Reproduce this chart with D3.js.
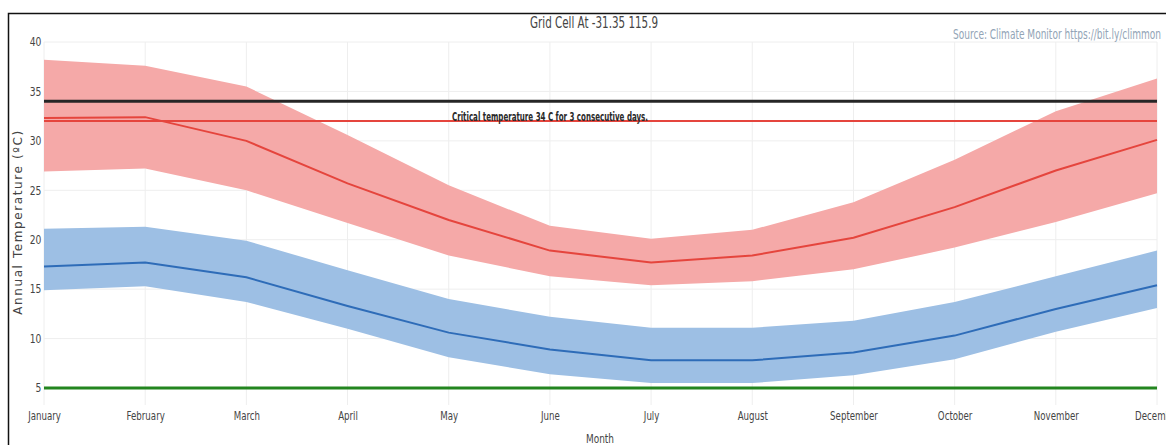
<!DOCTYPE html>
<html>
<head>
<meta charset="utf-8">
<script src="https://cdn.jsdelivr.net/npm/d3@7"></script>
<style>
  html, body { margin: 0; padding: 0; background: #fff; }
  svg { display: block; }
  .cond { font-family: "Liberation Sans Narrow", "DejaVu Sans Condensed", "Roboto Condensed", sans-serif; }
</style>
</head>
<body>
<svg id="chart" width="1166" height="445"></svg>
<script>
// Monthly temperature envelopes for the grid cell
const months = ["January","February","March","April","May","June","July","August","September","October","November","December"];

const maxUpper = [38.2, 37.6, 35.5, 30.6, 25.5, 21.4, 20.1, 21.0, 23.8, 28.1, 33.0, 36.3];
const maxMean  = [32.3, 32.4, 30.0, 25.7, 22.0, 18.9, 17.7, 18.4, 20.2, 23.3, 27.0, 30.1];
const maxLower = [26.9, 27.2, 25.0, 21.7, 18.4, 16.3, 15.4, 15.8, 17.0, 19.2, 21.8, 24.7];

const minUpper = [21.1, 21.3, 19.9, 16.9, 14.0, 12.2, 11.1, 11.1, 11.8, 13.7, 16.3, 18.9];
const minMean  = [17.3, 17.7, 16.2, 13.3, 10.6,  8.9,  7.8,  7.8,  8.6, 10.3, 13.0, 15.4];
const minLower = [14.9, 15.3, 13.7, 11.0,  8.1,  6.4,  5.5,  5.5,  6.3,  7.9, 10.7, 13.1];

const yTicks = [5, 10, 15, 20, 25, 30, 35, 40];
const criticalTemp = 34;
const maxThreshold = 32;
const minThreshold = 5;

const svg = d3.select("#chart");

// outer frame
svg.append("rect").attr("x", 8.5).attr("y", 13.5).attr("width", 1170).attr("height", 440)
  .attr("fill", "none").attr("stroke", "#111").attr("stroke-width", 1.5);

const plotL = 44, plotR = 1157, plotT = 42, plotB = 388;

const x = d3.scalePoint().domain(months).range([plotL, plotR]);
const y = d3.scaleLinear().domain([5, 40]).range([plotB, plotT]);

// gridlines
const g = svg.append("g");
g.selectAll("line.vg").data(months).join("line")
  .attr("x1", d => x(d)).attr("x2", d => x(d)).attr("y1", plotT).attr("y2", 405)
  .attr("stroke", "#eeeeee").attr("stroke-width", 1);
g.selectAll("line.hg").data(yTicks).join("line")
  .attr("x1", plotL).attr("x2", plotR).attr("y1", d => y(d)).attr("y2", d => y(d))
  .attr("stroke", "#eeeeee").attr("stroke-width", 1);

const idx = d3.range(months.length);
const area = (lo, hi) => d3.area().x(i => x(months[i])).y0(i => y(lo[i])).y1(i => y(hi[i]));
const line = vals => d3.line().x(i => x(months[i])).y(i => y(vals[i]));

svg.append("path").datum(idx).attr("d", area(maxLower, maxUpper)).attr("fill", "#f5a9a8");
svg.append("path").datum(idx).attr("d", area(minLower, minUpper)).attr("fill", "#9dbfe4");

svg.append("path").datum(idx).attr("d", line(maxMean)).attr("fill", "none")
  .attr("stroke", "#e5453d").attr("stroke-width", 2);
svg.append("path").datum(idx).attr("d", line(minMean)).attr("fill", "none")
  .attr("stroke", "#2e6cb8").attr("stroke-width", 2);

// threshold lines
const hline = (v, color, w) => svg.append("line")
  .attr("x1", plotL).attr("x2", plotR).attr("y1", y(v)).attr("y2", y(v))
  .attr("stroke", color).attr("stroke-width", w);
hline(criticalTemp, "#262626", 3);
hline(maxThreshold, "#e5453d", 2);
hline(minThreshold, "#23851f", 3);

svg.append("text").attr("class", "cond")
  .attr("x", 550).attr("y", 121).attr("text-anchor", "middle")
  .attr("font-size", 12).attr("font-weight", "bold").attr("fill", "#2a2a2a")
  .attr("textLength", 196).attr("lengthAdjust", "spacingAndGlyphs")
  .text("Critical temperature 34 C for 3 consecutive days.");

// axes (narrow tick lettering)
const yAxis = svg.append("g").attr("class", "cond")
  .attr("transform", `translate(${plotL - 1},0)`)
  .call(d3.axisLeft(y).tickValues(yTicks).tickSize(0).tickPadding(2));
yAxis.select(".domain").remove();
yAxis.selectAll("text").attr("font-size", 12).attr("fill", "#444")
  .attr("font-family", "Liberation Sans Narrow, DejaVu Sans Condensed, sans-serif")
  .attr("transform", "scale(0.85,1)");

const xAxis = svg.append("g").attr("class", "cond")
  .attr("transform", `translate(0,${plotB + 20})`)
  .call(d3.axisBottom(x).tickSize(0).tickPadding(3));
xAxis.select(".domain").remove();
xAxis.selectAll("text").attr("font-size", 12).attr("fill", "#444")
  .attr("font-family", "Liberation Sans Narrow, DejaVu Sans Condensed, sans-serif")
  .attr("transform", "scale(0.8,1)");

// titles
svg.append("text").attr("class", "cond")
  .attr("x", 594).attr("y", 28).attr("text-anchor", "middle")
  .attr("font-size", 16).attr("fill", "#444")
  .attr("textLength", 128).attr("lengthAdjust", "spacingAndGlyphs")
  .text("Grid Cell At -31.35 115.9");

svg.append("text").attr("class", "cond")
  .attr("x", 953).attr("y", 39)
  .attr("font-size", 14).attr("fill", "#92a4b6")
  .attr("textLength", 208).attr("lengthAdjust", "spacingAndGlyphs")
  .text("Source: Climate Monitor https://bit.ly/climmon");

svg.append("text").attr("class", "cond")
  .attr("x", 600).attr("y", 443).attr("text-anchor", "middle")
  .attr("font-size", 12).attr("fill", "#444")
  .attr("textLength", 28).attr("lengthAdjust", "spacingAndGlyphs")
  .text("Month");

svg.append("text")
  .attr("transform", "translate(22,222) rotate(-90)")
  .attr("text-anchor", "middle")
  .attr("font-family", "DejaVu Sans, Verdana, sans-serif")
  .attr("font-size", 12).attr("fill", "#444").attr("letter-spacing", 1.6)
  .text("Annual Temperature (ºC)");
</script>
</body>
</html>
